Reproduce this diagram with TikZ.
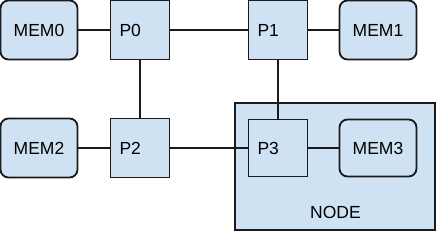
\documentclass[tikz,border=0pt]{standalone}
\usepackage{fontspec}
\setmainfont{Liberation Sans}
\definecolor{boxblue}{HTML}{CFE2F3}
\definecolor{edgegray}{HTML}{1A1A1A}

\begin{document}
\begin{tikzpicture}[x=1pt, y=-1pt,
    base/.style={draw=edgegray, fill=boxblue, line width=1.8pt, font=\fontsize{17.5}{20}\selectfont},
    proc/.style={base, minimum width=59pt, minimum height=59pt, text width=41pt, inner sep=9pt, align=left},
    mem/.style={base, rounded corners=8pt, minimum width=77pt, minimum height=59pt, inner sep=0pt},
    link/.style={draw=edgegray, line width=1.8pt}]
    \useasboundingbox (0,0) rectangle (436,231);
    \draw[base] (235,103) rectangle (435,230);
    \node[font=\fontsize{17.5}{20}\selectfont] (nodelabel) at (335.5,212) {NODE};
    \node[mem] (mem0) at (39,30) {MEM0};
    \node[proc] (p0) at (140,30) {P0};
    \node[proc] (p1) at (278,30) {P1};
    \node[mem] (mem1) at (378,30) {MEM1};
    \node[mem] (mem2) at (39,148) {MEM2};
    \node[proc] (p2) at (140,148) {P2};
    \node[proc, minimum height=57pt] (p3) at (278,148) {P3};
    \node[mem, minimum height=57pt] (mem3) at (378,148) {MEM3};
    \draw[link] (mem0) -- (p0);
    \draw[link] (p0) -- (p1);
    \draw[link] (p1) -- (mem1);
    \draw[link] (p0) -- (p2);
    \draw[link] (p1) -- (p3);
    \draw[link] (mem2) -- (p2);
    \draw[link] (p2) -- (p3);
    \draw[link] (p3) -- (mem3);
\end{tikzpicture}
\end{document}
